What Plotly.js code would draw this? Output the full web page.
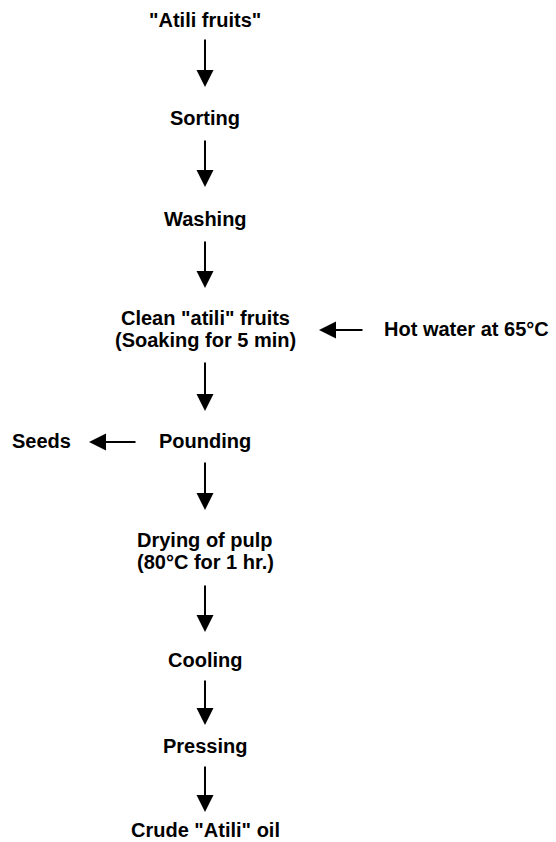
<!DOCTYPE html>
<html>
<head>
<meta charset="utf-8">
<script src="https://cdn.plot.ly/plotly-3.0.1.min.js"></script>
<style>html,body{margin:0;padding:0;background:#fff;}#chart{width:556px;height:842px;}</style>
</head>
<body>
<div id="chart"></div>
<script>
// ---- Data: flow chart content ----
const stepLines = [
  ['"Atili fruits"'],
  ['Sorting'],
  ['Washing'],
  ['Clean "atili" fruits', '(Soaking for 5 min)'],
  ['Pounding'],
  ['Drying of pulp', '(80°C for 1 hr.)'],
  ['Cooling'],
  ['Pressing'],
  ['Crude "Atili" oil']
];
const inputLabel = 'Hot water at 65°C';   // enters step index 3 from the right
const inputStep = 3;
const outputLabel = 'Seeds';              // leaves step index 4 to the left
const outputStep = 4;

// ---- Layout (positions in pixel-like data units) ----
const W = 556, H = 842;
const colX = 205;
const stepY = [20, 118, 219, 329, 441, 551, 660, 746, 830];
const lineGap = 22;
const arrowSeg = [[38, 87], [139, 187], [240, 288], [361, 411], [461, 510], [584, 632], [679, 725], [765, 812]];
const inputArrow = {tail: 364, tip: 319, y: 330, textX: 382};
const outputArrow = {tail: 137, tip: 89, y: 442, textX: 73};

const font = {family: 'Liberation Sans, Arial, sans-serif', size: 20, color: '#000'};
const annotations = [];

stepLines.forEach((lines, i) => {
  const n = lines.length;
  lines.forEach((t, j) => {
    annotations.push({
      x: colX, y: stepY[i] + (j - (n - 1) / 2) * lineGap,
      xref: 'x', yref: 'y', text: '<b>' + t + '</b>', showarrow: false,
      xanchor: 'center', yanchor: 'middle', font: font
    });
  });
});

const arrowStyle = {arrowhead: 2, arrowsize: 1.7, arrowwidth: 2, arrowcolor: '#000', standoff: 0, startstandoff: 0};

arrowSeg.forEach(([a, b]) => {
  annotations.push(Object.assign({
    x: colX, y: b, ax: colX, ay: a, xref: 'x', yref: 'y', axref: 'x', ayref: 'y',
    text: '', showarrow: true
  }, arrowStyle));
});

// input arrow (right side)
annotations.push(Object.assign({
  x: inputArrow.tip, y: inputArrow.y, ax: inputArrow.tail, ay: inputArrow.y,
  xref: 'x', yref: 'y', axref: 'x', ayref: 'y', text: '', showarrow: true
}, arrowStyle));
annotations.push({
  x: inputArrow.textX, y: stepY[inputStep], xref: 'x', yref: 'y', text: '<b>' + inputLabel + '</b>',
  showarrow: false, xanchor: 'left', yanchor: 'middle', font: font
});

// output arrow (left side)
annotations.push(Object.assign({
  x: outputArrow.tip, y: outputArrow.y, ax: outputArrow.tail, ay: outputArrow.y,
  xref: 'x', yref: 'y', axref: 'x', ayref: 'y', text: '', showarrow: true
}, arrowStyle));
annotations.push({
  x: outputArrow.textX, y: stepY[outputStep], xref: 'x', yref: 'y', text: '<b>' + outputLabel + '</b>',
  showarrow: false, xanchor: 'right', yanchor: 'middle', font: font
});

const layout = {
  width: W, height: H,
  margin: {l: 0, r: 0, t: 0, b: 0, pad: 0},
  paper_bgcolor: '#fff', plot_bgcolor: '#fff',
  xaxis: {range: [0, W], visible: false, fixedrange: true},
  yaxis: {range: [H, 0], visible: false, fixedrange: true},
  showlegend: false,
  annotations: annotations
};

Plotly.newPlot('chart', [{x: [], y: [], type: 'scatter', mode: 'markers', hoverinfo: 'skip'}], layout, {staticPlot: true, displayModeBar: false});
</script>
</body>
</html>
